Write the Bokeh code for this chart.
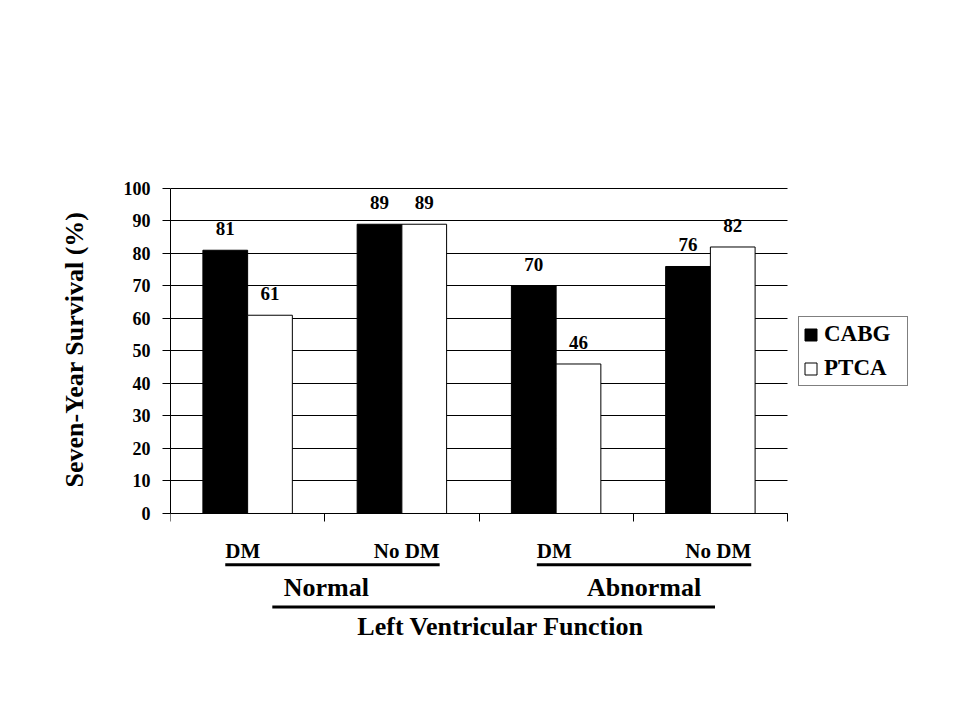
import numpy as np
from bokeh.plotting import figure
from bokeh.models import (Range1d, FixedTicker, ColumnDataSource, LabelSet, Label,
                          Legend, LegendItem, Grid)
from bokeh.embed import file_html
from bokeh.resources import INLINE

# ---- data ----
groups = ["Normal", "Abnormal"]
subgroups = ["DM", "No DM", "DM", "No DM"]
cabg = [81, 89, 70, 76]
ptca = [61, 89, 46, 82]
series_names = ["CABG", "PTCA"]
y_ticks = [0, 10, 20, 30, 40, 50, 60, 70, 80, 90, 100]
y_label = "Seven-Year Survival (%)"
x_title = "Left Ventricular Function"

FONT = "Liberation Serif"
W, H = 951, 711
n = len(cabg)
centers = np.arange(n) + 0.5
bw = 0.29

# frame: x 170..930 px (categories 0..4 -> 170..787), y 53..645 px
PXU = (787 - 170) / n
x_end = (930 - 170) / PXU
p = figure(width=W, height=H, output_backend="svg", toolbar_location=None,
           x_range=Range1d(0, x_end), y_range=Range1d(-40.62, 141.54),
           min_border_left=170, min_border_right=W - 930,
           min_border_top=53, min_border_bottom=H - 645)
p.outline_line_color = None

src1 = ColumnDataSource(dict(x=centers - bw / 2, top=cabg, lab=[str(v) for v in cabg]))
src2 = ColumnDataSource(dict(x=centers + bw / 2, top=ptca, lab=[str(v) for v in ptca]))

# grid lines restricted to the category area
p.xgrid.grid_line_color = None
if "cross_bounds" in Grid.properties():
    p.ygrid.ticker = FixedTicker(ticks=y_ticks)
    p.ygrid.cross_bounds = (0, n)
    p.ygrid.grid_line_color = "black"
    p.ygrid.grid_line_width = 1
else:
    p.ygrid.grid_line_color = None
    p.segment(x0=[0] * len(y_ticks), x1=[n] * len(y_ticks), y0=y_ticks, y1=y_ticks,
              line_color="black", line_width=1)

r1 = p.vbar(x="x", top="top", bottom=0, width=bw, source=src1, fill_color="black",
            line_color="black", line_width=1)
r2 = p.vbar(x="x", top="top", bottom=0, width=bw, source=src2, fill_color="white",
            line_color="black", line_width=1)

for s in (src1, src2):
    p.add_layout(LabelSet(x="x", y="top", text="lab", source=s, y_offset=15,
                          text_align="center", text_baseline="alphabetic",
                          text_font=FONT, text_font_style="bold",
                          text_font_size="19px", text_color="black"))

p.yaxis.bounds = (0, 100)
p.yaxis.ticker = FixedTicker(ticks=y_ticks)
p.yaxis.axis_label = y_label
p.yaxis.axis_label_text_font = FONT
p.yaxis.axis_label_text_font_style = "bold"
p.yaxis.axis_label_text_font_size = "26px"
p.yaxis.axis_label_text_color = "black"
p.yaxis.axis_label_standoff = 32
p.yaxis.major_label_text_font = FONT
p.yaxis.major_label_text_font_style = "bold"
p.yaxis.major_label_text_font_size = "18px"
p.yaxis.major_label_text_color = "black"
p.yaxis.major_label_standoff = 12
p.yaxis.major_tick_out = 8
p.yaxis.major_tick_in = 0
p.yaxis.minor_tick_line_color = None
p.yaxis.axis_line_color = "black"
p.yaxis.major_tick_line_color = "black"

p.xaxis.fixed_location = 0
p.xaxis.bounds = (0, n)
p.xaxis.ticker = FixedTicker(ticks=list(range(n + 1)))
p.xaxis.major_label_text_color = None
p.xaxis.major_label_text_font_size = "1px"
p.xaxis.major_tick_out = 8
p.xaxis.major_tick_in = 0
p.xaxis.minor_tick_line_color = None
p.xaxis.axis_line_color = "black"
p.xaxis.major_tick_line_color = "black"

legend = Legend(items=[LegendItem(label=series_names[0], renderers=[r1]),
                       LegendItem(label=series_names[1], renderers=[r2])],
                location=(628, 259), margin=0, padding=4, spacing=8,
                glyph_width=15, glyph_height=15, label_standoff=6,
                label_height=24, label_width=79,
                label_text_font=FONT, label_text_font_style="bold",
                label_text_font_size="23px", label_text_color="black",
                border_line_color="black", border_line_width=1,
                background_fill_alpha=1.0)
p.add_layout(legend, "center")

# ---------------- category brackets below the axis ----------------
half = 0.695
gcent = [1.05, 3.07]
seg_x0, seg_x1, seg_y = [], [], []
for gi, gc in enumerate(gcent):
    p.add_layout(Label(x=gc - half, y=-11.4, text=subgroups[2 * gi], text_align="left",
                       text_baseline="alphabetic", text_font=FONT, text_font_style="bold",
                       text_font_size="21px", text_color="black"))
    p.add_layout(Label(x=gc + half, y=-11.4, text=subgroups[2 * gi + 1], text_align="right",
                       text_baseline="alphabetic", text_font=FONT, text_font_style="bold",
                       text_font_size="21px", text_color="black"))
    seg_x0.append(gc - half)
    seg_x1.append(gc + half)
    seg_y.append(-15.8)
for gc, g in zip([1.01, 3.07], groups):
    p.add_layout(Label(x=gc, y=-22.8, text=g, text_align="center",
                       text_baseline="alphabetic", text_font=FONT, text_font_style="bold",
                       text_font_size="26px", text_color="black"))
seg_x0.append(0.66)
seg_x1.append(3.53)
seg_y.append(-28.8)
p.segment(x0=seg_x0, x1=seg_x1, y0=seg_y, y1=seg_y, line_width=3, line_color="black")
p.add_layout(Label(x=2.14, y=-34.8, text=x_title, text_align="center",
                   text_baseline="alphabetic", text_font=FONT, text_font_style="bold",
                   text_font_size="26px", text_color="black"))

open("out.html", "w").write(file_html(p, INLINE))
